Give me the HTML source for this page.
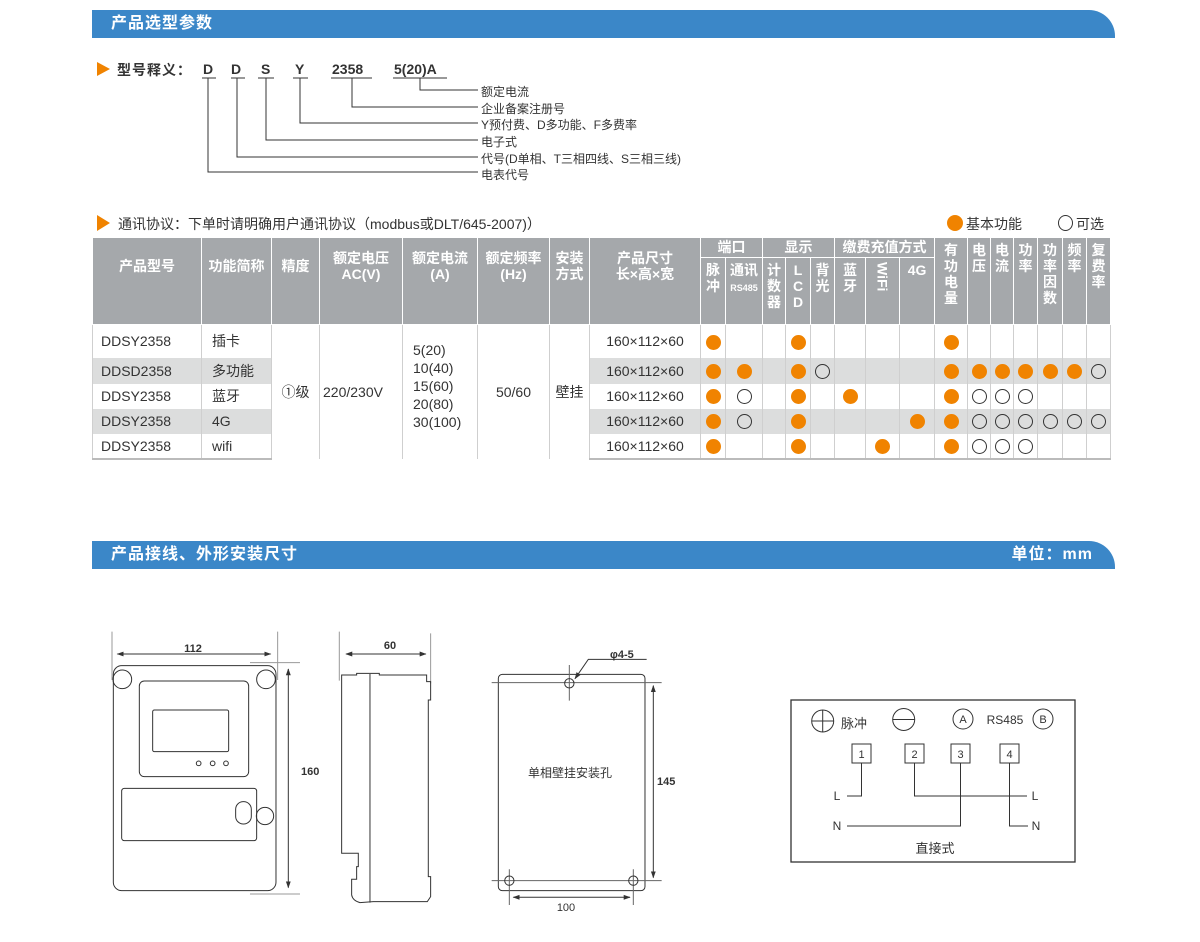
<!DOCTYPE html>
<html><head><meta charset="utf-8"><style>
*{margin:0;padding:0;box-sizing:border-box}
body{width:1200px;height:942px;background:#fff;position:relative;overflow:hidden;font-family:"Liberation Sans","Noto Sans CJK SC",sans-serif;color:#333}
.bar{position:absolute;left:92px;width:1023px;height:28px;background:#3b87c8;border-top-right-radius:26px;color:#fff;font-weight:bold;font-size:16px;line-height:28px;padding-left:19px;letter-spacing:1px}
.t{position:absolute;white-space:nowrap}
table{position:absolute;left:92px;top:237px;border-collapse:collapse;table-layout:fixed;width:1018px;font-size:14px}
th{background:#a5a8ab;color:#fff;font-weight:bold;border:1.5px solid #fff;vertical-align:top;line-height:16px;font-size:14px;padding-top:4px}
th.m{padding-top:20px}
th.m2{padding-top:12px}
td{border-left:1px solid #cfcfcf;border-right:1px solid #cfcfcf;text-align:center;vertical-align:middle;padding:0;color:#333}
tr.b td{height:25px}
td.g{background:#dcdddd}
td.l{text-align:left;padding-left:8px}
td.f{text-align:left;padding-left:10px}
.o{display:inline-block;width:15px;height:15px;border-radius:50%;background:#f08300;vertical-align:middle}
.c{display:inline-block;width:15px;height:15px;border-radius:50%;border:1.3px solid #333;vertical-align:middle}
tbody tr:last-child td{border-bottom:2px solid #bbb}
</style></head><body>
<div class="bar" style="top:10px">产品选型参数</div>
<div class="bar" style="top:541px">产品接线、外形安装尺寸<span style="position:absolute;right:22px">单位：mm</span></div>

<svg style="position:absolute;left:0;top:0" width="1200" height="240">
<polygon points="97,62 110,69 97,76" fill="#f08300"/>
<g stroke="#333" stroke-width="1" fill="none">
<path d="M202 78H216M231 78H245M258 78H274M293 78H308M331 78H372M393 78H447"/>
<path d="M208 78V172H478M237 78V157H478M266 78V140H478M300 78V123H478M352 78V107H478M420 78V90H478"/>
</g>
<polygon points="97,215 110,223 97,231" fill="#f08300"/>
</svg>
<div class="t" style="left:117px;top:60px;font-size:14px;font-weight:bold;letter-spacing:1px">型号释义：</div>
<div class="t" style="left:203px;top:61px;font-size:14px;font-weight:bold">D</div>
<div class="t" style="left:231px;top:61px;font-size:14px;font-weight:bold">D</div>
<div class="t" style="left:261px;top:61px;font-size:14px;font-weight:bold">S</div>
<div class="t" style="left:295px;top:61px;font-size:14px;font-weight:bold">Y</div>
<div class="t" style="left:332px;top:61px;font-size:14px;font-weight:bold">2358</div>
<div class="t" style="left:394px;top:61px;font-size:14px;font-weight:bold">5(20)A</div>
<div class="t" style="left:481px;top:83px;font-size:12px">额定电流</div>
<div class="t" style="left:481px;top:100px;font-size:12px">企业备案注册号</div>
<div class="t" style="left:481px;top:116px;font-size:12px">Y预付费、D多功能、F多费率</div>
<div class="t" style="left:481px;top:133px;font-size:12px">电子式</div>
<div class="t" style="left:481px;top:150px;font-size:12px">代号(D单相、T三相四线、S三相三线)</div>
<div class="t" style="left:481px;top:166px;font-size:12px">电表代号</div>

<div class="t" style="left:118px;top:214px;font-size:14px">通讯协议：下单时请明确用户通讯协议（modbus或DLT/645-2007)）</div>
<div class="t" style="left:947px;top:215px;width:16px;height:16px;border-radius:50%;background:#f08300"></div>
<div class="t" style="left:966px;top:214px;font-size:14px">基本功能</div>
<div class="t" style="left:1058px;top:215px;width:15px;height:16px;border-radius:50%;border:1.3px solid #333"></div>
<div class="t" style="left:1076px;top:214px;font-size:14px">可选</div>

<table>
<colgroup><col style="width:109px"><col style="width:70px"><col style="width:48px"><col style="width:83px"><col style="width:75px"><col style="width:72px"><col style="width:40px"><col style="width:111px"><col style="width:25px"><col style="width:37px"><col style="width:23px"><col style="width:25px"><col style="width:24px"><col style="width:31px"><col style="width:34px"><col style="width:35px"><col style="width:33px"><col style="width:23px"><col style="width:23px"><col style="width:24px"><col style="width:25px"><col style="width:24px"><col style="width:24px"></colgroup>
<thead>
<tr style="height:20px"><th rowspan="2" class="m">产品型号</th><th rowspan="2" class="m">功能简称</th><th rowspan="2" class="m">精度</th><th rowspan="2" class="m2">额定电压<br>AC(V)</th><th rowspan="2" class="m2">额定电流<br>(A)</th><th rowspan="2" class="m2">额定频率<br>(Hz)</th><th rowspan="2" class="m2">安装<br>方式</th><th rowspan="2" class="m2">产品尺寸<br>长×高×宽</th>
<th colspan="2" style="padding-top:1px">端口</th><th colspan="3" style="padding-top:1px">显示</th><th colspan="3" style="padding-top:1px">缴费充值方式</th>
<th rowspan="2">有<br>功<br>电<br>量</th><th rowspan="2">电<br>压</th><th rowspan="2">电<br>流</th><th rowspan="2">功<br>率</th><th rowspan="2">功<br>率<br>因<br>数</th><th rowspan="2">频<br>率</th><th rowspan="2">复<br>费<br>率</th></tr>
<tr style="height:67px"><th>脉<br>冲</th><th>通讯<br><span style="font-size:9px">RS485</span></th><th>计<br>数<br>器</th><th>L<br>C<br>D</th><th>背<br>光</th><th>蓝<br>牙</th><th><span style="writing-mode:vertical-rl;display:inline-block">WiFi</span></th><th>4G</th></tr>
</thead>
<tbody>
<tr class="b" style="height:33px"><td class="l">DDSY2358</td><td class="f">插卡</td><td rowspan="5">①级</td><td rowspan="5" style="text-align:left;padding-left:3px">220/230V</td><td rowspan="5" style="text-align:left;padding-left:10px;line-height:18px;padding-bottom:12px">5(20)<br>10(40)<br>15(60)<br>20(80)<br>30(100)</td><td rowspan="5">50/60</td><td rowspan="5">壁挂</td><td>160×112×60</td>
<td><i class="o"></i></td><td></td><td></td><td><i class="o"></i></td><td></td><td></td><td></td><td></td><td><i class="o"></i></td><td></td><td></td><td></td><td></td><td></td><td></td></tr>
<tr class="b" style="height:26px"><td class="l g">DDSD2358</td><td class="f g">多功能</td><td class="g">160×112×60</td>
<td class="g"><i class="o"></i></td><td class="g"><i class="o"></i></td><td class="g"></td><td class="g"><i class="o"></i></td><td class="g"><i class="c"></i></td><td class="g"></td><td class="g"></td><td class="g"></td><td class="g"><i class="o"></i></td><td class="g"><i class="o"></i></td><td class="g"><i class="o"></i></td><td class="g"><i class="o"></i></td><td class="g"><i class="o"></i></td><td class="g"><i class="o"></i></td><td class="g"><i class="c"></i></td></tr>
<tr class="b"><td class="l">DDSY2358</td><td class="f">蓝牙</td><td>160×112×60</td>
<td><i class="o"></i></td><td><i class="c"></i></td><td></td><td><i class="o"></i></td><td></td><td><i class="o"></i></td><td></td><td></td><td><i class="o"></i></td><td><i class="c"></i></td><td><i class="c"></i></td><td><i class="c"></i></td><td></td><td></td><td></td></tr>
<tr class="b"><td class="l g">DDSY2358</td><td class="f g">4G</td><td class="g">160×112×60</td>
<td class="g"><i class="o"></i></td><td class="g"><i class="c"></i></td><td class="g"></td><td class="g"><i class="o"></i></td><td class="g"></td><td class="g"></td><td class="g"></td><td class="g"><i class="o"></i></td><td class="g"><i class="o"></i></td><td class="g"><i class="c"></i></td><td class="g"><i class="c"></i></td><td class="g"><i class="c"></i></td><td class="g"><i class="c"></i></td><td class="g"><i class="c"></i></td><td class="g"><i class="c"></i></td></tr>
<tr class="b" style="height:24px"><td class="l">DDSY2358</td><td class="f">wifi</td><td>160×112×60</td>
<td><i class="o"></i></td><td></td><td></td><td><i class="o"></i></td><td></td><td></td><td><i class="o"></i></td><td></td><td><i class="o"></i></td><td><i class="c"></i></td><td><i class="c"></i></td><td><i class="c"></i></td><td></td><td></td><td></td></tr>
</tbody></table>

<svg style="position:absolute;left:0;top:0" width="1200" height="942">
<defs><marker id="a" viewBox="0 0 10 10" refX="9" refY="5" markerWidth="7" markerHeight="7" orient="auto-start-reverse"><path d="M0 1.5L10 5L0 8.5z" fill="#333"/></marker></defs>
<g fill="none" stroke="#333" stroke-width="1">
<g transform="translate(90,620) scale(0.3333)" stroke-width="3">
<rect x="70" y="137" width="488" height="675" rx="25"/>
<circle cx="97" cy="178" r="28"/><circle cx="528" cy="178" r="28"/>
<rect x="148" y="183" width="328" height="287" rx="15"/>
<rect x="188" y="270" width="228" height="125" rx="5"/>
<circle cx="326" cy="430" r="7"/><circle cx="368" cy="430" r="7"/><circle cx="408" cy="430" r="7"/>
<rect x="95" y="505" width="405" height="157" rx="8"/>
<rect x="437" y="545" width="47" height="67" rx="23"/>
<circle cx="525" cy="588" r="26"/>
<path d="M66 35V180M563 35V180M480 128H630M480 822H630" stroke="#999"/>
<path d="M82 102H542" marker-start="url(#a)" marker-end="url(#a)"/>
<path d="M595 147V803" marker-start="url(#a)" marker-end="url(#a)"/>
<path d="M748 35V182M1022 40V190" stroke="#999"/>
<path d="M768 102H1008" marker-start="url(#a)" marker-end="url(#a)"/>
<path d="M755 165H800V160H868V165H1010V185H1022V240H1015V770H1022V830L1012 845H850L810 848Q788 842 785 825V778H800V740H805V700H755Z"/>
<path d="M840 162V848"/>
</g>
<g transform="translate(490,640) scale(0.3333)" stroke-width="3">
<rect x="25" y="103" width="440" height="649" rx="12"/>
<path d="M5 128H515M5 722H515M238 75V182M58 688V795M430 688V795" stroke="#666"/>
<circle cx="238" cy="130" r="14"/><circle cx="58" cy="722" r="14"/><circle cx="430" cy="722" r="14"/>
<path d="M70 772H420" marker-start="url(#a)" marker-end="url(#a)"/>
<path d="M490 137V713" marker-start="url(#a)" marker-end="url(#a)"/>
<path d="M470 58H295L255 116" marker-end="url(#a)"/>
</g>
<rect x="791" y="700" width="284" height="162" stroke-width="1.3"/>
<circle cx="822.7" cy="721" r="11"/><path d="M811.7 721H833.7M822.7 710V732"/>
<circle cx="903.7" cy="719.5" r="11"/><path d="M892.7 719.5H914.7"/>
<circle cx="963" cy="719" r="10"/><circle cx="1043" cy="719" r="10"/>
<rect x="852" y="744" width="19" height="19"/><rect x="905" y="744" width="19" height="19"/><rect x="951" y="744" width="19" height="19"/><rect x="1000" y="744" width="19" height="19"/>
<path d="M861.5 763V796H847M914.5 763V796H1027M960.5 763V826H847M1009.5 763V826H1028"/>
</g>
<g font-family="Liberation Sans, Noto Sans CJK SC, sans-serif" fill="#333" font-size="11">
<text x="193" y="652" text-anchor="middle" font-weight="bold">112</text>
<text x="301" y="775" font-weight="bold">160</text>
<text x="390" y="649" text-anchor="middle" font-weight="bold">60</text>
<text x="610" y="658" font-weight="bold">φ4-5</text>
<text x="657" y="785" font-weight="bold">145</text>
<text x="566" y="911" text-anchor="middle">100</text>
<text x="570" y="777" text-anchor="middle" font-size="12">单相壁挂安装孔</text>
<text x="841" y="728" font-size="13">脉冲</text>
<text x="963" y="723" text-anchor="middle" font-size="11">A</text>
<text x="1043" y="723" text-anchor="middle" font-size="11">B</text>
<text x="1005" y="724" text-anchor="middle" font-size="12">RS485</text>
<text x="861.5" y="758" text-anchor="middle">1</text><text x="914.5" y="758" text-anchor="middle">2</text><text x="960.5" y="758" text-anchor="middle">3</text><text x="1009.5" y="758" text-anchor="middle">4</text>
<text x="837" y="800" text-anchor="middle" font-size="12">L</text><text x="1035" y="800" text-anchor="middle" font-size="12">L</text>
<text x="837" y="830" text-anchor="middle" font-size="12">N</text><text x="1036" y="830" text-anchor="middle" font-size="12">N</text>
<text x="935" y="853" text-anchor="middle" font-size="13">直接式</text>
</g>
</svg>
</body></html>
